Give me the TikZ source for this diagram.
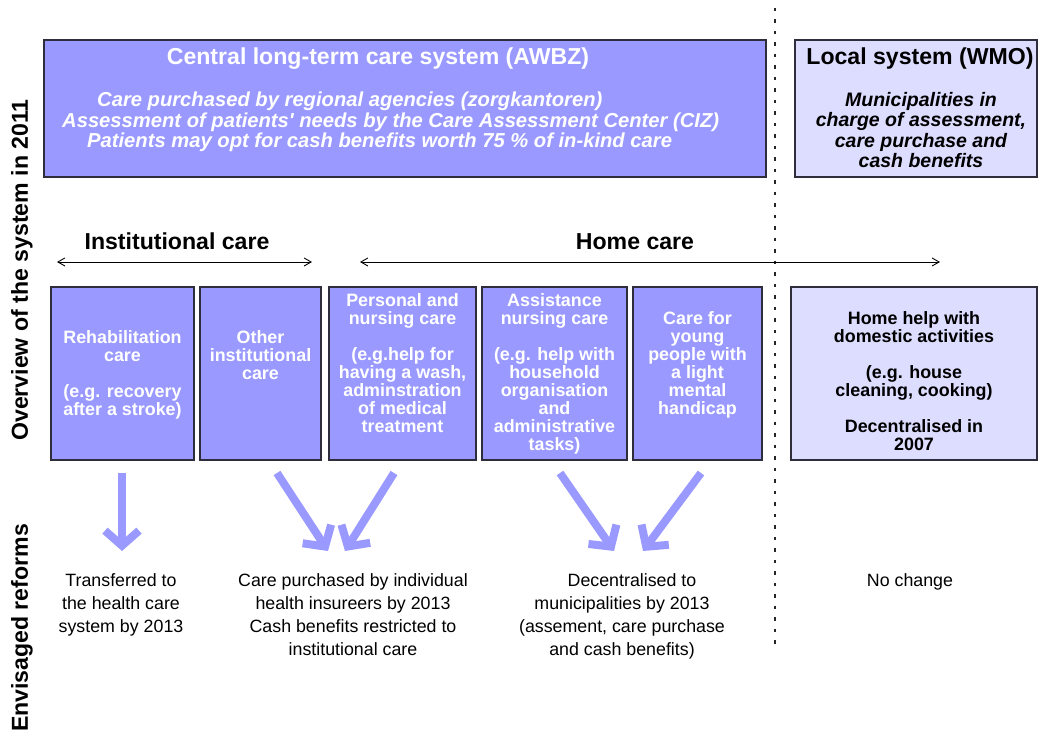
\documentclass[tikz,border=0pt]{standalone}
\usepackage{fontspec}
\setmainfont{Liberation Sans}
\usetikzlibrary{arrows.meta,positioning}

\begin{document}
\begin{tikzpicture}[x=1pt,y=1pt,
  card/.style={draw=cardline,line width=1.2pt,fill=cardfill,anchor=north west,
    inner sep=0pt,outer sep=0pt,minimum height=173pt},
  lightcard/.style={card,fill=lightfill},
  cardtext/.style={text=white,anchor=north,align=center,inner sep=0pt,
    font=\bfseries\fontsize{17.9}{18}\selectfont},
  heading/.style={anchor=base,inner sep=0pt,font=\bfseries\fontsize{23.1}{27}\selectfont},
  remark/.style={inner sep=0pt,font=\bfseries\itshape\fontsize{20.2}{20.5}\selectfont},
  reform/.style={anchor=north,align=center,inner sep=0pt,font=\fontsize{17.8}{23}\selectfont},
  span/.style={draw=black,line width=0.9pt,{Straight Barb[length=7pt,width=8pt]}-{Straight Barb[length=7pt,width=8pt]}},
  reformarrow/.style={draw=arrowfill,line width=8pt,-{Straight Barb[sharp,length=15pt,width=34pt]}},
  divider/.style={draw=black!85,line width=1.5pt,dash pattern=on 3.5pt off 8pt}]
\definecolor{cardfill}{RGB}{153,153,255}
\definecolor{lightfill}{RGB}{221,221,255}
\definecolor{cardline}{RGB}{45,45,60}
\definecolor{arrowfill}{RGB}{153,153,255}
\path[use as bounding box,fill=white] (0,0) rectangle (1041,733);

% top row: the two systems
\node[card,minimum width=722pt,minimum height=137pt] (awbz) at (44,693) {};
\node[lightcard,minimum width=242pt,minimum height=137pt] (wmo) at (795,693) {};
\node[heading,text=white] (awbztitle) at (378,668) {Central long-term care system (AWBZ)};
\node[remark,text=white,anchor=north west,align=left] (awbzinfo) at (62,641)
  {\hspace*{35pt}Care purchased by regional agencies (zorgkantoren)\\
   Assessment of patients\textquotesingle{} needs by the Care Assessment Center (CIZ)\\
   \hspace*{25pt}Patients may opt for cash benefits worth 75 \% of in-kind care};
\node[heading] (wmotitle) at (920,668) {Local system (WMO)};
\node[remark,anchor=north,align=center,font=\bfseries\itshape\fontsize{19.5}{20.5}\selectfont] (wmoinfo) at (921,641)
  {Municipalities in\\ charge of assessment,\\ care purchase and\\ cash benefits};

\coordinate (dtop) at (775,725);
\coordinate (dbot) at (775,88);
\draw[divider] (dtop) -- (dbot);

% care types
\node[heading] (insthead) at (177,483) {Institutional care};
\node[heading] (homehead) at (635,483) {Home care};
\coordinate (instL) at (57,471);
\coordinate (instR) at (312,471);
\coordinate (homeL) at (360,471);
\coordinate (homeR) at (940,471);
\draw[span] (instL) -- (instR);
\draw[span] (homeL) -- (homeR);

\node[card,minimum width=143pt] (rehab) at (51,446) {};
\node[card,minimum width=121pt] (other) at (200,446) {};
\node[card,minimum width=147pt] (personal) at (329,446) {};
\node[card,minimum width=145pt] (assist) at (482,446) {};
\node[card,minimum width=129pt] (young) at (633,446) {};
\node[lightcard,minimum width=246pt] (domestic) at (791,446) {};

\node[cardtext,below=43pt of rehab.north] (rehabtext)
  {Rehabilitation\\ care\\[18pt] (e.g. recovery\\ after a stroke)};
\node[cardtext,below=43pt of other.north] (othertext)
  {Other\\ institutional\\ care};
\node[cardtext,below=6pt of personal.north] (personaltext)
  {Personal and\\ nursing care\\[18pt] (e.g.help for\\ having a wash,\\ adminstration\\ of medical\\ treatment};
\node[cardtext,below=6pt of assist.north] (assisttext)
  {Assistance\\ nursing care\\[18pt] (e.g. help with\\ household\\ organisation\\ and\\ administrative\\ tasks)};
\node[cardtext,below=24pt of young.north] (youngtext)
  {Care for\\ young\\ people with\\ a light\\ mental\\ handicap};
\node[cardtext,text=black,below=24pt of domestic.north] (domestictext)
  {Home help with\\ domestic activities\\[18pt] (e.g. house\\ cleaning, cooking)\\[18pt] Decentralised in\\ 2007};

% reforms
\coordinate (s1) at (122,260);
\coordinate (e1) at (122,182);
\coordinate (s2) at (277,260);
\coordinate (e2) at (328,182);
\coordinate (s3) at (394,260);
\coordinate (e3) at (345,182);
\coordinate (s4) at (560,260);
\coordinate (e4) at (614,182);
\coordinate (s5) at (701,260);
\coordinate (e5) at (643,182);
\draw[reformarrow] (s1) -- (e1);
\draw[reformarrow] (s2) -- (e2);
\draw[reformarrow] (s3) -- (e3);
\draw[reformarrow] (s4) -- (e4);
\draw[reformarrow] (s5) -- (e5);

\node[reform] (health) at (121,160) {Transferred to\\ the health care\\ system by 2013};
\node[reform] (insurers) at (353,160) {Care purchased by individual\\ health insureers by 2013\\ Cash benefits restricted to\\ institutional care};
\node[reform] (decentral) at (622,160) {\hspace*{20pt}Decentralised to\\ municipalities by 2013\\ (assement, care purchase\\ and cash benefits)};
\node[reform] (nochange) at (910,160) {No change};

% side labels
\node[heading,anchor=center,rotate=90] (overview) at (22,463) {Overview of the system in 2011};
\node[heading,anchor=center,rotate=90] (envisaged) at (22,105) {Envisaged reforms};
\end{tikzpicture}
\end{document}
